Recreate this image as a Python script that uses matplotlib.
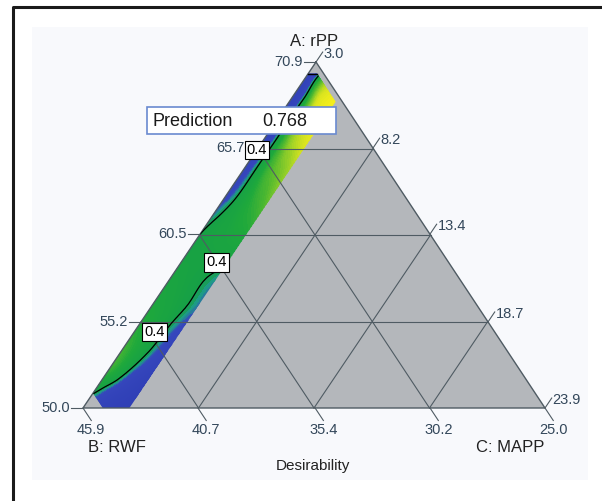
#!/usr/bin/env python3
"""
Ternary desirability contour (mixture design, A: rPP / B: RWF / C: MAPP).
"""

import numpy as np
import matplotlib
matplotlib.use("Agg")
import matplotlib.pyplot as plt
import matplotlib.tri as mtri
from matplotlib.colors import LinearSegmentedColormap
from matplotlib.patches import Polygon, Rectangle

plt.rcParams["font.family"] = ["Liberation Sans", "DejaVu Sans"]

# ── component ranges (real units) ──
A_LOW, B_LOW, C_LOW, SPAN = 50.0, 25.0, 3.0, 20.9
a_ticks = [50.0, 55.2, 60.5, 65.7, 70.9]
b_ticks = [45.9, 40.7, 35.4, 30.2, 25.0]
c_ticks = [3.0, 8.2, 13.4, 18.7, 23.9]
axis_names = ["A: rPP", "B: RWF", "C: MAPP"]

# feasible (non-zero desirability) region limits
A_MAX, B_MIN, B_MAX, C_MAX = 70.2, 25.3, 45.0, 5.1

# ── desirability: rows = A level, cols = C level ──
grid_A = [50.0, 50.8, 52.1, 54.2, 56.3, 58.4, 60.5, 62.5, 64.6, 66.7, 68.8, 70.2]
grid_C = [3.0, 3.5, 4.0, 4.6, 5.1]
desir = [
    [0.30, 0.27, 0.24, 0.20, 0.17],
    [0.40, 0.34, 0.28, 0.23, 0.18],
    [0.52, 0.46, 0.38, 0.30, 0.24],
    [0.53, 0.49, 0.44, 0.37, 0.31],
    [0.48, 0.46, 0.43, 0.40, 0.37],
    [0.44, 0.43, 0.42, 0.41, 0.40],
    [0.40, 0.43, 0.45, 0.48, 0.50],
    [0.34, 0.40, 0.47, 0.54, 0.60],
    [0.31, 0.39, 0.52, 0.62, 0.68],
    [0.28, 0.38, 0.58, 0.72, 0.78],
    [0.26, 0.37, 0.64, 0.77, 0.80],
    [0.25, 0.37, 0.66, 0.78, 0.80],
]
contour_level = 0.4
label_pts = [(65.6, 3.0), (58.8, 4.6), (54.6, 3.9)]  # (A, C) of the "0.4" tags
prediction = 0.768

# vertices of the triangle in figure pixels
VA, VB, VC = np.array([316, 62]), np.array([83, 408]), np.array([545, 408])


def tern(a, b, c):
    return a * VA + b * VB + c * VC


def real(A, C):
    a = (A - A_LOW) / SPAN
    c = (C - C_LOW) / SPAN
    return tern(a, 1 - a - c, c)


fig = plt.figure(figsize=(6.02, 5.01), dpi=100)
ax = fig.add_axes([0, 0, 1, 1])
ax.set_xlim(0, 602)
ax.set_ylim(501, 0)
ax.axis("off")

# frame + panel
ax.add_patch(Rectangle((32, 27), 556, 453, fc="#f8f9fc", ec="none", zorder=0))
ax.plot([13, 13, 602], [501, 7, 7], color="#1a1a1a", lw=2.2, zorder=6)

# gray triangle
ax.add_patch(Polygon([VA, VB, VC], closed=True, fc="#b4b7bb", ec="none", zorder=1))

# ── contour field ──
nr, nc = len(grid_A), len(grid_C)
pts = np.array([real(A, C) for A in grid_A for C in grid_C])
tris = []
for i in range(nr - 1):
    for j in range(nc - 1):
        k = i * nc + j
        tris.append([k, k + 1, k + nc])
        tris.append([k + 1, k + nc + 1, k + nc])
tri = mtri.Triangulation(pts[:, 0], pts[:, 1], triangles=tris)
z = np.array(desir).ravel()
tri_f, z_f = mtri.UniformTriRefiner(tri).refine_field(z, subdiv=3)

a_max = (A_MAX - A_LOW) / SPAN
b_min = (B_MIN - B_LOW) / SPAN
b_max = (B_MAX - B_LOW) / SPAN
c_max = (C_MAX - C_LOW) / SPAN
feas = [
    tern(1 - b_max, b_max, 0), tern(a_max, 1 - a_max, 0),
    tern(a_max, b_min, 1 - a_max - b_min), tern(1 - b_min - c_max, b_min, c_max),
    tern(0, 1 - c_max, c_max), tern(0, b_max, 1 - b_max),
]
clip = Polygon(feas, closed=True, transform=ax.transData, fc="none", ec="none")

cmap = LinearSegmentedColormap.from_list("desir", [
    (0.0, "#2a38b0"), (0.36 / 0.8, "#3546bc"), (0.385 / 0.8, "#1f9a8a"),
    (0.40 / 0.8, "#16a046"), (0.50 / 0.8, "#1ea83c"), (0.58 / 0.8, "#50b830"),
    (0.66 / 0.8, "#98d028"), (0.72 / 0.8, "#d0e020"), (1.0, "#f4ee1c"),
])
cs = ax.tricontourf(tri_f, z_f, levels=np.linspace(0, 0.8, 81), cmap=cmap, vmin=0, vmax=0.8,
                    extend="both", zorder=2)
cs.set_clip_path(clip)
cl = ax.tricontour(tri_f, z_f, levels=[contour_level], colors="black", linewidths=0.9, zorder=4)
cl.set_clip_path(clip)
# upper limit of the feasible strip
ax.plot([feas[1][0], feas[2][0]], [feas[1][1], feas[2][1]], color="black", lw=1.0, zorder=4)

# ── grid lines and edges ──
gcol = "#4f5b63"
for f in [0.25, 0.5, 0.75]:
    for p, q in [(tern(f, 1 - f, 0), tern(f, 0, 1 - f)),
                 (tern(0, f, 1 - f), tern(1 - f, f, 0)),
                 (tern(0, 1 - f, f), tern(1 - f, 0, f))]:
        ax.plot([p[0], q[0]], [p[1], q[1]], color=gcol, lw=0.8, zorder=3)
ax.plot([VA[0], VB[0], VC[0], VA[0]], [VA[1], VB[1], VC[1], VA[1]], color=gcol, lw=1.0, zorder=3)

# ── ticks ──
tcol = "#33475a"
dB = (VC - VA) / np.linalg.norm(VC - VA)
dC = (VA - VB) / np.linalg.norm(VA - VB)
for v in a_ticks:
    a = (v - A_LOW) / SPAN
    p = tern(a, 1 - a, 0)
    ax.plot([p[0], p[0] - 12], [p[1], p[1]], color=gcol, lw=0.8, zorder=3)
    ax.text(p[0] - 13, p[1], f"{v:.1f}", ha="right", va="center", fontsize=10.5, color=tcol)
for v in b_ticks:
    b = (v - B_LOW) / SPAN
    p = tern(0, b, 1 - b)
    e = p + 15 * dB
    ax.plot([p[0], e[0]], [p[1], e[1]], color=gcol, lw=0.8, zorder=3)
    ax.text(e[0], e[1] + 2, f"{v:.1f}", ha="center", va="top", fontsize=10.5, color=tcol)
for v in c_ticks:
    c = (v - C_LOW) / SPAN
    p = tern(1 - c, 0, c)
    e = p + 12 * dC
    ax.plot([p[0], e[0]], [p[1], e[1]], color=gcol, lw=0.8, zorder=3)
    ax.text(e[0] + 1, e[1] + 2, f"{v:.1f}", ha="left", va="center", fontsize=10.5, color=tcol)

# axis names
ax.text(VA[0] - 2, 41, axis_names[0], ha="center", va="center", fontsize=12, color="#222222")
ax.text(117, 448, axis_names[1], ha="center", va="center", fontsize=12, color="#222222")
ax.text(510, 448, axis_names[2], ha="center", va="center", fontsize=12, color="#222222")
ax.text(313, 466, "Desirability", ha="center", va="center", fontsize=11, color="#222222")

# contour tags
for A, C in label_pts:
    p = real(A, C)
    ax.text(p[0], p[1], f"{contour_level:.1f}", ha="center", va="center", fontsize=10.5, zorder=5,
            bbox=dict(boxstyle="square,pad=0.15", fc="white", ec="black", lw=0.8))

# prediction flag
ax.add_patch(Rectangle((147, 107), 189, 27, fc="white", ec="#6a8ad0", lw=1.2, zorder=5))
ax.text(153, 121, "Prediction", ha="left", va="center", fontsize=13, color="#1a1a1a", zorder=6)
ax.text(262, 121, f"{prediction:.3f}", ha="left", va="center", fontsize=13, color="#1a1a1a", zorder=6)

fig.savefig("out.png", dpi=100)
plt.close(fig)
